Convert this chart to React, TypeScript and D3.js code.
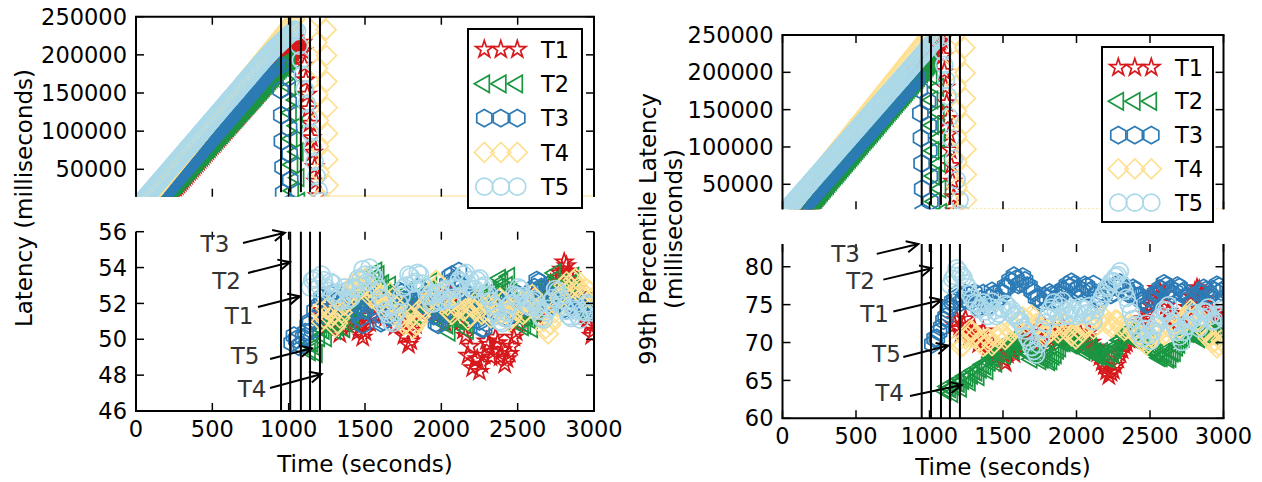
import React from 'react';
import * as d3 from 'd3';

const SERIES = ['T1', 'T2', 'T3', 'T4', 'T5'];
const COLORS = ['#d7191c', '#1a9641', '#2c7bb6', '#fee090', '#abd9e9'];
const MARKERS = ['star', 'triangle', 'hexagon', 'diamond', 'circle'];

const TIME_TICKS = [0, 500, 1000, 1500, 2000, 2500, 3000];
const BIG_TICKS = [50000, 100000, 150000, 200000, 250000];
const AVG_TICKS = [46, 48, 50, 52, 54, 56];
const P99_TICKS = [60, 65, 70, 75, 80];

// switch-over times (black vertical lines)
const AVG_SWITCH = [950, 1010, 1080, 1140, 1205];
const P99_SWITCH = [947, 1010, 1078, 1139, 1207];

// ---- average latency: ramp before switch, one sample every 10 s, in thousands of ms ----
const RISE_STEP = 10;
const avgRiseStart = [180, 140, 120, 50, 20];
const avgRiseT1 = [7.1, 9.5, 11.7, 14.1, 16.3, 18.7, 21.0, 23.2, 25.6, 27.9, 30.1, 32.5, 34.7, 37.1, 39.4, 41.6, 44.0, 46.3, 48.5, 50.9, 53.2, 55.4, 57.8, 60.0, 62.4, 64.7, 66.9, 69.3, 71.6, 73.8, 76.2, 78.4, 80.8, 83.1, 85.3, 87.7, 90.0, 92.2, 94.6, 96.8, 99.2, 101.5, 103.7, 106.1, 108.4, 110.6, 113.0, 115.2, 117.6, 119.9, 122.1, 124.5, 126.8, 129.0, 131.4, 133.6, 136.0, 138.3, 140.5, 142.9, 145.2, 147.4, 149.8, 152.0, 154.4, 156.7, 158.9, 161.3, 163.6, 165.8, 168.2, 170.4, 172.8, 175.1, 177.3, 179.7, 182.0, 184.2, 186.6, 188.8, 191.2, 193.5, 195.7, 198.1, 200.4, 202.6, 205.0, 207.2, 209.6, 211.9, 214.1, 216.2];
const avgRiseT2 = [3.0, 5.2, 7.4, 9.6, 11.8, 14.1, 16.3, 18.5, 20.7, 22.9, 25.1, 27.3, 29.5, 31.7, 33.9, 36.2, 38.4, 40.6, 42.8, 45.0, 47.2, 49.4, 51.6, 53.8, 56.0, 58.3, 60.5, 62.7, 64.9, 67.1, 69.3, 71.5, 73.7, 75.9, 78.1, 80.4, 82.6, 84.8, 87.0, 89.2, 91.4, 93.6, 95.8, 98.0, 100.2, 102.5, 104.7, 106.9, 109.1, 111.3, 113.5, 115.7, 117.9, 120.1, 122.3, 124.6, 126.8, 129.0, 131.2, 133.4, 135.6, 137.8, 140.0, 142.2, 144.4, 146.7, 148.9, 151.1, 153.3, 155.5, 157.7, 159.9, 162.1, 164.3, 166.5, 168.8, 171.0, 173.2, 175.4, 177.6, 179.8, 182.0, 184.2, 186.4, 188.6, 190.9, 193.1];
const avgRiseT3 = [3.6, 5.9, 8.2, 10.6, 12.9, 15.2, 17.5, 19.8, 22.2, 24.5, 26.8, 29.1, 31.4, 33.8, 36.1, 38.4, 40.7, 43.0, 45.4, 47.7, 50.0, 52.3, 54.6, 57.0, 59.3, 61.6, 63.9, 66.2, 68.6, 70.9, 73.2, 75.5, 77.8, 80.2, 82.5, 84.8, 87.1, 89.4, 91.8, 94.1, 96.4, 98.7, 101.0, 103.4, 105.7, 108.0, 110.3, 112.6, 115.0, 117.3, 119.6, 121.9, 124.2, 126.6, 128.9, 131.2, 133.5, 135.8, 138.2, 140.5, 142.8, 145.1, 147.4, 149.8, 152.1, 154.4, 156.7, 159.0, 161.4, 163.7, 166.0, 168.3, 170.6, 173.0, 175.3, 177.6, 179.9, 182.2, 184.6, 186.9, 189.2];
const avgRiseT4 = [4.0, 6.5, 8.9, 11.4, 13.8, 16.3, 18.7, 21.2, 23.6, 26.1, 28.5, 31.0, 33.4, 35.9, 38.3, 40.8, 43.2, 45.7, 48.1, 50.6, 53.0, 55.5, 57.9, 60.4, 62.8, 65.3, 67.7, 70.2, 72.6, 75.1, 77.5, 80.0, 82.4, 84.9, 87.3, 89.8, 92.2, 94.7, 97.1, 99.6, 102.0, 104.5, 106.9, 109.4, 111.8, 114.3, 116.7, 119.2, 121.6, 124.1, 126.5, 129.0, 131.4, 133.9, 136.3, 138.8, 141.2, 143.7, 146.1, 148.6, 151.0, 153.5, 155.9, 158.4, 160.8, 163.3, 165.7, 168.2, 170.6, 173.1, 175.5, 178.0, 180.4, 182.9, 185.3, 187.8, 190.2, 192.7, 195.1, 197.6, 200.0, 202.5, 204.9, 207.4, 209.8, 212.3, 214.7, 217.2, 219.6, 222.1, 224.5, 227.0, 229.4, 231.9, 234.3, 236.8, 239.2, 241.7, 244.1, 246.6];
const avgRiseT5 = [3.5, 5.8, 8.2, 10.5, 12.8, 15.2, 17.5, 19.8, 22.1, 24.5, 26.8, 29.1, 31.5, 33.8, 36.1, 38.4, 40.8, 43.1, 45.4, 47.8, 50.1, 52.4, 54.7, 57.1, 59.4, 61.7, 64.1, 66.4, 68.7, 71.0, 73.4, 75.7, 78.0, 80.4, 82.7, 85.0, 87.3, 89.7, 92.0, 94.3, 96.7, 99.0, 101.3, 103.6, 106.0, 108.3, 110.6, 113.0, 115.3, 117.6, 119.9, 122.3, 124.6, 126.9, 129.3, 131.6, 133.9, 136.2, 138.6, 140.9, 143.2, 145.6, 147.9, 150.2, 152.5, 154.9, 157.2, 159.5, 161.9, 164.2, 166.5, 168.8, 171.2, 173.5, 175.8, 178.2, 180.5, 182.8, 185.1, 187.5, 189.8, 192.1, 194.4, 196.6, 198.8, 200.9, 203.0, 205.1, 207.1, 209.1, 211.0, 213.0, 214.9, 216.8, 218.7, 220.6, 222.4, 224.2, 226.0, 227.8, 229.5, 231.2, 233.0];

// ---- average latency: drain right after switch [time, ms] ----
const avgDropT1 = [[1095, 205000], [1104, 186000], [1113, 167000], [1122, 148000], [1131, 129000], [1140, 110000], [1150, 91000], [1160, 72000], [1170, 53000], [1180, 34000], [1190, 15000]];
const avgDropT2 = [[1005, 192000], [1045, 175000], [1010, 158000], [1050, 141000], [1015, 124000], [1055, 107000], [1020, 90000], [1060, 73000], [1025, 56000], [1065, 39000], [1030, 22000], [1070, 8000]];
const avgDropT3 = [[945, 186000], [995, 170000], [948, 154000], [1000, 138000], [952, 121000], [1003, 104000], [956, 87000], [1006, 70000], [960, 53000], [1010, 36000], [964, 19000], [1012, 6000]];
const avgDropT4 = [[1190, 250000], [1245, 233000], [1185, 216000], [1248, 199000], [1188, 182000], [1250, 165000], [1190, 148000], [1252, 131000], [1194, 114000], [1254, 97000], [1196, 80000], [1256, 63000], [1200, 46000], [1258, 29000], [1204, 12000]];
const avgDropT5 = [[1055, 231000], [1068, 212000], [1080, 193000], [1092, 174000], [1105, 155000], [1118, 136000], [1130, 117000], [1143, 98000], [1156, 79000], [1170, 60000], [1183, 41000], [1196, 22000], [1208, 8000]];

// ---- average latency: steady state (every 15 s) ----
const STEADY_STEP = 15;
const avgStart = [1200, 1140, 1020, 1200, 1140];
const avgT1 = [50.9, 51.6, 51.3, 50.7, 51.0, 51.8, 51.4, 50.8, 51.0, 50.3, 50.6, 51.5, 51.2, 52.0, 51.6, 50.9, 51.1, 50.4, 50.7, 50.1, 50.4, 51.3, 50.9, 51.9, 51.4, 52.2, 51.8, 52.4, 52.1, 51.2, 51.6, 51.8, 51.2, 50.7, 51.5, 51.3, 51.0, 50.2, 50.6, 49.7, 49.9, 50.5, 50.8, 51.9, 51.5, 51.6, 52.0, 52.5, 51.7, 51.9, 52.3, 51.5, 51.8, 52.0, 51.4, 50.9, 51.9, 52.6, 52.4, 51.8, 51.9, 51.3, 51.0, 50.5, 50.2, 49.1, 49.6, 48.4, 48.8, 48.9, 48.2, 48.6, 49.1, 49.9, 49.7, 49.0, 49.3, 50.1, 49.8, 49.0, 49.4, 48.6, 48.9, 49.2, 49.6, 50.1, 50.4, 50.9, 51.2, 51.9, 51.7, 51.4, 52.0, 52.4, 51.6, 51.3, 51.9, 52.5, 52.3, 52.0, 52.6, 53.1, 52.9, 52.5, 53.4, 53.7, 53.9, 54.3, 54.1, 53.8, 53.6, 53.1, 52.8, 52.5, 52.1, 51.7, 51.4, 51.1, 50.8, 50.2, 50.5];
const avgT2 = [49.3, 49.8, 49.6, 49.2, 50.1, 50.6, 50.5, 50.1, 50.8, 51.3, 51.0, 50.5, 50.7, 51.4, 51.2, 50.6, 50.9, 51.6, 51.4, 51.0, 51.8, 52.4, 52.2, 51.7, 52.6, 53.2, 52.9, 52.4, 53.3, 53.8, 53.6, 53.0, 53.1, 52.6, 52.5, 53.0, 52.0, 51.5, 51.6, 52.2, 51.9, 51.4, 52.3, 52.7, 51.8, 51.3, 51.4, 52.0, 51.9, 52.6, 52.5, 52.1, 52.8, 53.2, 52.2, 51.8, 51.5, 51.0, 51.0, 51.5, 50.8, 50.4, 51.2, 51.7, 51.6, 51.0, 51.1, 51.6, 50.9, 50.5, 51.3, 51.9, 51.8, 51.3, 52.1, 52.6, 51.7, 51.3, 52.0, 52.6, 52.5, 52.1, 52.9, 53.4, 53.2, 52.7, 53.0, 53.5, 52.6, 52.1, 51.9, 51.4, 51.2, 50.7, 50.8, 51.3, 51.1, 50.6, 51.5, 52.0, 52.1, 51.6, 52.6, 53.1, 53.0, 52.5, 53.3, 53.7, 52.8, 52.4, 52.3, 52.9, 52.7, 52.2, 53.1, 53.5, 52.6, 52.1, 52.0, 51.5, 51.6, 52.1, 51.9, 51.5, 52.2];
const avgT3 = [49.8, 50.2, 50.0, 49.6, 49.7, 50.1, 50.4, 50.8, 51.0, 50.5, 51.6, 51.2, 51.9, 52.3, 52.4, 51.8, 52.0, 52.5, 52.6, 52.1, 52.2, 51.7, 51.8, 52.3, 52.4, 52.8, 52.0, 51.6, 51.5, 51.9, 51.2, 50.8, 51.6, 52.1, 52.3, 51.8, 51.9, 52.4, 51.4, 50.9, 51.0, 51.5, 51.3, 51.9, 51.8, 51.4, 52.2, 52.7, 52.6, 52.2, 52.1, 51.6, 51.7, 52.2, 52.3, 52.9, 52.8, 52.3, 52.4, 51.8, 51.9, 51.5, 51.3, 50.9, 50.8, 51.2, 51.4, 52.2, 53.1, 53.5, 53.6, 53.2, 53.4, 53.8, 53.0, 52.7, 52.5, 52.0, 51.9, 52.3, 51.4, 51.1, 51.0, 50.6, 50.6, 50.9, 51.3, 51.7, 51.8, 52.3, 52.2, 51.8, 51.7, 51.2, 51.2, 51.7, 51.5, 51.9, 52.0, 52.5, 52.4, 52.0, 51.8, 52.1, 52.3, 52.7, 52.9, 53.3, 53.2, 52.9, 52.8, 52.4, 52.4, 52.0, 51.9, 52.3, 52.5, 52.0, 52.1, 51.7, 51.6, 51.9, 52.0, 52.4, 52.5, 52.1, 52.2, 51.8, 51.7, 52.0, 52.1, 51.7, 51.8];
const avgT4 = [51.6, 51.0, 51.2, 51.7, 51.8, 51.2, 51.4, 50.7, 50.9, 51.2, 51.5, 51.9, 52.1, 52.5, 52.7, 53.1, 53.2, 52.7, 52.8, 53.3, 53.4, 52.8, 52.9, 52.3, 52.4, 52.6, 52.0, 52.5, 52.4, 51.8, 51.9, 52.6, 52.3, 51.9, 51.8, 51.2, 51.3, 50.8, 50.9, 51.4, 51.2, 50.6, 50.8, 51.0, 51.3, 51.8, 51.7, 52.0, 52.2, 52.6, 52.8, 53.3, 53.1, 52.6, 52.5, 52.0, 51.9, 51.5, 51.4, 51.9, 51.8, 52.3, 52.2, 51.6, 51.7, 51.1, 51.3, 51.8, 51.6, 52.2, 52.0, 51.4, 51.5, 52.0, 51.9, 51.2, 51.3, 51.9, 51.7, 52.3, 52.1, 51.5, 51.6, 51.0, 51.2, 51.8, 51.6, 52.3, 52.0, 51.4, 51.5, 52.1, 51.9, 52.5, 52.3, 51.7, 51.8, 51.2, 51.0, 50.6, 50.3, 50.8, 51.1, 51.5, 51.8, 52.3, 52.6, 53.0, 53.2, 52.7, 52.9, 53.3, 53.4, 52.9, 52.8, 52.4, 52.3, 52.8, 52.7, 52.2, 52.4];
const avgT5 = [52.9, 53.3, 53.4, 52.8, 53.0, 53.6, 53.3, 52.9, 52.7, 53.2, 53.1, 52.5, 52.6, 52.1, 52.2, 52.9, 52.7, 52.2, 52.3, 52.9, 52.8, 53.4, 53.3, 53.9, 53.6, 53.2, 54.0, 53.6, 53.5, 53.0, 52.8, 52.3, 52.0, 51.6, 51.4, 51.0, 50.9, 51.3, 51.5, 52.0, 52.4, 52.9, 53.0, 53.6, 53.5, 53.1, 53.2, 53.7, 53.6, 53.1, 52.9, 52.5, 52.4, 52.0, 52.0, 52.5, 52.6, 52.1, 52.2, 52.8, 52.7, 52.2, 52.3, 52.9, 52.8, 53.3, 53.2, 53.6, 53.7, 53.1, 53.3, 52.8, 52.8, 53.3, 53.4, 52.9, 53.0, 52.4, 52.5, 52.1, 51.9, 51.5, 51.3, 51.0, 50.9, 51.2, 51.5, 51.9, 52.0, 52.5, 52.4, 52.9, 52.8, 52.4, 52.3, 51.9, 51.8, 52.1, 52.2, 51.8, 51.6, 51.2, 51.1, 51.5, 51.7, 52.1, 52.3, 52.8, 52.7, 52.4, 52.2, 51.8, 51.6, 51.3, 51.2, 51.7, 51.6, 51.3, 51.1, 51.6, 51.5, 52.0, 51.9, 51.5, 51.6];

// ---- 99th percentile: ramp before switch, every 10 s, thousands of ms ----
const p99RiseStart = [140, 130, 100, 25, 0];
const p99RiseT1 = [9.0, 11.5, 14.2, 16.5, 19.0, 21.5, 24.0, 26.3, 29.0, 31.5, 34.0, 36.5, 39.0, 41.5, 44.3, 46.5, 49.0, 51.5, 54.0, 56.5, 59.0, 61.5, 64.2, 66.5, 69.0, 71.5, 74.0, 76.3, 79.0, 81.5, 84.0, 86.5, 89.0, 91.5, 94.3, 96.5, 99.0, 101.5, 104.0, 106.5, 109.0, 111.5, 114.2, 116.5, 119.0, 121.5, 124.0, 126.3, 129.0, 131.5, 134.0, 136.5, 139.0, 141.5, 144.3, 146.5, 149.0, 151.5, 154.0, 156.5, 159.0, 161.5, 164.2, 166.5, 169.0, 171.5, 174.0, 176.3, 179.0, 181.5, 184.0, 186.5, 189.0, 191.5, 194.3, 196.5, 199.0, 201.5, 204.0, 206.5, 209.0, 211.5, 214.2, 216.5, 219.0, 221.5, 224.0, 226.3, 229.0, 231.5, 234.0, 236.5, 239.0, 241.5, 244.0];
const p99RiseT2 = [7.2, 9.5, 11.9, 14.2, 16.5, 18.9, 21.2, 23.5, 25.8, 28.2, 30.5, 32.8, 35.2, 37.5, 39.8, 42.2, 44.5, 46.8, 49.1, 51.5, 53.8, 56.1, 58.5, 60.8, 63.1, 65.4, 67.8, 70.1, 72.4, 74.8, 77.1, 79.4, 81.8, 84.1, 86.4, 88.7, 91.1, 93.4, 95.7, 98.1, 100.4, 102.7, 105.0, 107.4, 109.7, 112.0, 114.4, 116.7, 119.0, 121.4, 123.7, 126.0, 128.3, 130.7, 133.0, 135.3, 137.7, 140.0, 142.3, 144.6, 147.0, 149.3, 151.6, 154.0, 156.3, 158.6, 161.0, 163.3, 165.6, 167.9, 170.3, 172.6, 174.9, 177.3, 179.6, 181.9, 184.2, 186.6, 188.9, 191.2, 193.6, 195.9, 198.2, 200.6, 202.9, 205.2, 207.5, 209.9, 212.2];
const p99RiseT3 = [11.0, 13.2, 15.5, 17.7, 19.9, 22.2, 24.4, 26.6, 28.8, 31.1, 33.3, 35.5, 37.8, 40.0, 42.2, 44.5, 46.7, 48.9, 51.1, 53.4, 55.6, 57.8, 60.1, 62.3, 64.5, 66.8, 69.0, 71.2, 73.4, 75.7, 77.9, 80.1, 82.4, 84.6, 86.8, 89.1, 91.3, 93.5, 95.7, 98.0, 100.2, 102.4, 104.7, 106.9, 109.1, 111.4, 113.6, 115.8, 118.0, 120.3, 122.5, 124.7, 127.0, 129.2, 131.4, 133.7, 135.9, 138.1, 140.3, 142.6, 144.8, 147.0, 149.3, 151.5, 153.7, 156.0, 158.2, 160.4, 162.6, 164.9, 167.1, 169.3, 171.6, 173.8, 176.0, 178.3, 180.5, 182.7, 184.9, 187.2, 189.4, 191.6, 193.9];
const p99RiseT4 = [11.6, 14.1, 16.5, 19.0, 21.4, 23.9, 26.3, 28.8, 31.2, 33.7, 36.1, 38.6, 41.0, 43.5, 45.9, 48.4, 50.8, 53.3, 55.7, 58.2, 60.6, 63.1, 65.5, 68.0, 70.4, 72.9, 75.3, 77.8, 80.2, 82.7, 85.1, 87.6, 90.0, 92.5, 94.9, 97.4, 99.8, 102.3, 104.7, 107.2, 109.6, 112.1, 114.5, 117.0, 119.4, 121.9, 124.3, 126.8, 129.2, 131.7, 134.1, 136.6, 139.0, 141.5, 143.9, 146.4, 148.8, 151.3, 153.7, 156.2, 158.6, 161.1, 163.5, 166.0, 168.4, 170.9, 173.3, 175.8, 178.2, 180.7, 183.1, 185.6, 188.0, 190.5, 192.9, 195.4, 197.8, 200.3, 202.7, 205.2, 207.6, 210.1, 212.5, 215.0, 217.4, 219.9, 222.3, 224.8, 227.2, 229.7, 232.1, 234.6, 237.0, 239.5, 241.9, 244.4, 246.8, 249.3];
const p99RiseT5 = [9.8, 12.0, 14.3, 16.5, 18.8, 21.0, 23.3, 25.5, 27.8, 30.0, 32.3, 34.5, 36.8, 39.0, 41.3, 43.5, 45.8, 48.0, 50.3, 52.5, 54.8, 57.0, 59.3, 61.5, 63.8, 66.0, 68.3, 70.5, 72.8, 75.0, 77.3, 79.5, 81.8, 84.0, 86.3, 88.5, 90.8, 93.0, 95.3, 97.5, 99.8, 102.0, 104.3, 106.5, 108.8, 111.0, 113.3, 115.5, 117.8, 120.0, 122.3, 124.5, 126.8, 129.0, 131.3, 133.5, 135.8, 138.0, 140.3, 142.5, 144.8, 147.0, 149.3, 151.5, 153.8, 156.0, 158.3, 160.5, 162.8, 165.0, 167.3, 169.5, 171.8, 174.0, 176.3, 178.5, 180.8, 183.0, 185.3, 187.5, 189.8, 192.0, 194.3, 196.5, 198.8, 201.0, 203.3, 205.5, 207.8, 210.0, 212.3, 214.5, 216.8, 219.0, 221.3, 223.5, 225.8, 228.0, 230.3, 232.5, 234.8, 237.0, 239.3, 241.5, 243.8];

const p99DropT1 = [[1093, 222000], [1101, 201000], [1109, 180000], [1117, 159000], [1125, 138000], [1133, 117000], [1141, 96000], [1149, 75000], [1157, 54000], [1165, 33000], [1173, 14000]];
const p99DropT2 = [[1015, 196000], [1060, 180000], [1020, 163000], [1063, 146000], [1024, 129000], [1067, 112000], [1028, 95000], [1071, 78000], [1032, 61000], [1075, 44000], [1036, 27000], [1079, 12000]];
const p99DropT3 = [[935, 177000], [990, 161000], [938, 145000], [994, 129000], [942, 112000], [998, 95000], [946, 78000], [1002, 61000], [950, 44000], [1006, 27000], [954, 12000]];
const p99DropT4 = [[1175, 250000], [1240, 233000], [1178, 216000], [1242, 199000], [1180, 182000], [1244, 165000], [1182, 148000], [1246, 131000], [1184, 114000], [1248, 97000], [1186, 80000], [1250, 63000], [1188, 46000], [1252, 29000], [1190, 12000]];
const p99DropT5 = [[1075, 246000], [1090, 228000], [1100, 210000], [1112, 190000], [1124, 168000], [1135, 140000], [1145, 112000], [1165, 84000], [1185, 56000], [1205, 29000], [1220, 10000]];

// ---- 99th percentile: steady state (every 15 s) ----
const p99Start = [1170, 1110, 1020, 1200, 1140];
const p99T1 = [72.3, 73.0, 71.8, 71.2, 72.4, 73.1, 71.6, 70.9, 71.0, 71.8, 70.4, 69.8, 70.9, 71.5, 69.8, 69.1, 69.2, 69.9, 68.7, 68.0, 68.2, 68.9, 67.8, 67.3, 68.4, 69.2, 69.1, 68.5, 69.9, 70.7, 70.5, 69.8, 71.0, 71.8, 70.6, 70.0, 71.2, 71.9, 70.7, 70.1, 71.3, 72.0, 70.8, 70.2, 71.4, 72.1, 70.9, 70.3, 71.5, 72.2, 71.0, 70.3, 70.4, 71.2, 71.1, 70.5, 70.6, 71.3, 70.2, 69.6, 70.7, 71.4, 70.0, 69.4, 69.2, 68.6, 68.1, 67.4, 66.9, 66.2, 65.6, 66.0, 66.3, 67.0, 67.8, 68.5, 69.0, 69.6, 69.9, 70.4, 70.6, 71.3, 71.2, 71.7, 72.0, 72.6, 73.1, 73.7, 74.2, 74.9, 75.6, 76.4, 77.1, 76.8, 76.3, 75.6, 74.8, 74.1, 73.5, 73.0, 72.6, 72.2, 72.1, 72.5, 73.0, 73.8, 74.6, 75.3, 76.0, 76.7, 77.2, 77.0, 76.5, 75.8, 75.1, 74.5, 74.0, 73.6, 73.2, 72.9, 72.7, 73.0, 73.4];
const p99T2 = [63.6, 64.2, 63.9, 63.3, 64.2, 64.8, 64.6, 64.0, 65.0, 65.6, 65.3, 64.8, 65.7, 66.3, 66.1, 65.5, 66.5, 67.1, 66.9, 66.3, 67.4, 68.0, 67.9, 67.3, 68.5, 69.1, 69.0, 68.3, 69.6, 70.2, 69.5, 68.9, 70.3, 70.9, 69.8, 69.1, 69.0, 69.7, 68.4, 67.8, 68.9, 69.5, 68.3, 67.6, 67.8, 68.5, 68.2, 67.5, 67.6, 68.2, 68.4, 69.0, 69.3, 70.0, 70.0, 70.6, 70.4, 69.7, 69.8, 70.5, 70.2, 69.6, 69.5, 68.8, 69.0, 69.7, 69.4, 68.7, 68.8, 68.2, 68.2, 68.8, 68.6, 67.9, 67.9, 68.6, 68.5, 69.1, 69.6, 70.3, 70.4, 71.0, 70.9, 71.6, 71.3, 70.6, 70.8, 70.1, 70.2, 70.9, 70.6, 69.9, 69.9, 69.3, 69.2, 68.6, 68.6, 68.0, 68.0, 68.7, 68.5, 67.8, 67.9, 68.6, 68.7, 69.4, 69.8, 70.4, 70.6, 71.3, 71.2, 71.8, 71.6, 70.9, 71.1, 70.5, 70.6, 71.3, 71.0, 71.7, 71.5, 70.9, 71.1, 71.8, 71.7, 72.3, 72.1];
const p99T3 = [69.8, 70.5, 70.6, 71.4, 72.0, 72.9, 73.4, 74.3, 74.8, 75.4, 75.6, 76.4, 76.1, 75.3, 75.7, 76.5, 76.3, 75.4, 75.8, 76.6, 75.2, 74.6, 75.7, 76.5, 75.3, 74.7, 75.9, 76.8, 76.4, 75.7, 75.8, 76.7, 76.5, 77.4, 77.3, 78.2, 78.0, 78.8, 78.4, 77.6, 77.8, 78.7, 78.2, 77.5, 77.4, 76.8, 76.6, 75.9, 75.9, 75.2, 75.4, 76.1, 75.8, 76.6, 76.3, 75.5, 75.7, 76.5, 76.2, 77.0, 76.8, 77.6, 77.3, 78.0, 77.6, 76.9, 77.2, 76.5, 76.8, 77.6, 77.4, 76.7, 76.9, 77.7, 76.3, 75.6, 75.8, 76.6, 76.4, 77.2, 77.0, 76.3, 76.6, 77.5, 77.2, 77.9, 77.6, 76.9, 77.1, 76.4, 76.5, 77.2, 76.9, 76.1, 76.2, 75.5, 75.6, 75.0, 75.1, 75.9, 75.7, 76.5, 76.4, 77.1, 77.0, 77.8, 77.5, 76.8, 77.1, 76.4, 76.7, 77.5, 77.3, 76.6, 76.8, 76.1, 76.0, 75.2, 75.3, 76.1, 75.8, 76.6, 76.4, 77.2, 76.9, 76.1, 76.3, 77.0, 76.8, 77.6, 77.4, 76.7, 77.0];
const p99T4 = [70.2, 69.4, 69.6, 70.5, 70.8, 71.6, 71.5, 70.7, 71.0, 70.1, 70.3, 69.5, 69.7, 70.6, 70.4, 69.6, 69.9, 70.8, 70.6, 71.4, 71.2, 70.4, 70.7, 71.6, 71.4, 72.3, 72.0, 72.8, 72.6, 73.4, 73.1, 72.3, 72.7, 73.6, 73.3, 72.5, 72.4, 71.7, 71.6, 70.8, 71.0, 71.9, 71.5, 72.3, 72.1, 71.3, 71.6, 72.5, 72.3, 71.5, 71.7, 70.9, 71.2, 70.5, 70.8, 71.6, 71.4, 72.2, 72.0, 72.9, 72.6, 71.8, 72.2, 73.0, 72.8, 73.6, 73.3, 72.5, 72.7, 72.0, 72.2, 73.0, 72.9, 72.1, 72.4, 71.6, 71.8, 72.6, 72.3, 71.5, 71.6, 70.8, 71.0, 70.2, 70.4, 69.7, 70.0, 70.8, 70.5, 71.3, 71.1, 71.9, 71.7, 71.0, 71.2, 72.0, 71.8, 72.6, 72.3, 71.5, 71.9, 72.7, 72.6, 73.5, 73.4, 74.3, 74.1, 73.3, 73.6, 72.8, 72.5, 71.7, 71.4, 70.6, 70.8, 70.0, 70.1, 69.3, 69.6, 70.3, 69.9];
const p99T5 = [77.6, 78.4, 78.8, 79.8, 79.4, 78.9, 78.6, 77.8, 77.3, 76.4, 75.8, 75.3, 75.1, 74.4, 74.6, 75.3, 74.1, 73.5, 74.7, 75.4, 74.2, 73.5, 73.8, 74.6, 74.4, 75.1, 74.9, 74.0, 74.3, 73.5, 73.7, 72.9, 72.8, 72.0, 71.6, 70.7, 70.2, 69.4, 68.9, 68.4, 69.8, 70.6, 71.7, 72.6, 73.4, 74.2, 74.6, 75.3, 74.1, 73.4, 74.8, 75.5, 74.2, 73.5, 73.6, 74.5, 74.3, 73.5, 73.8, 74.7, 74.4, 73.7, 73.9, 74.8, 73.5, 72.8, 74.3, 75.0, 75.4, 76.0, 76.5, 77.2, 77.4, 78.0, 78.1, 78.7, 78.9, 79.4, 77.6, 76.8, 75.9, 75.0, 74.0, 73.1, 72.3, 71.7, 71.2, 70.6, 71.8, 72.5, 70.9, 70.2, 71.5, 72.2, 72.4, 73.2, 73.5, 74.3, 74.2, 74.9, 73.3, 72.6, 72.1, 71.4, 70.8, 70.1, 71.4, 72.1, 72.3, 73.0, 73.1, 73.9, 72.6, 71.9, 73.4, 74.1, 74.0, 74.6, 73.5, 72.8, 72.9, 73.7, 73.6, 74.3, 73.2];

// annotations: label, arrow tip, text centre, arrow tail (time, latency)
const AVG_NOTES = [
  { label: 'T3', tip: [975, 55.94], text: [517, 55.34], tail: [701, 55.37] },
  { label: 'T2', tip: [1009, 54.3], text: [593, 53.25], tail: [734, 53.7] },
  { label: 'T1', tip: [1074, 52.4], text: [675, 51.3], tail: [799, 51.8] },
  { label: 'T5', tip: [1151, 49.5], text: [714, 49.1], tail: [878, 48.9] },
  { label: 'T4', tip: [1216, 48.06], text: [760, 47.25], tail: [878, 47.28] },
];
const P99_NOTES = [
  { label: 'T3', tip: [924, 83.0], text: [429, 81.7], tail: [641, 81.7] },
  { label: 'T2', tip: [1015, 79.8], text: [531, 78.2], tail: [686, 78.3] },
  { label: 'T1', tip: [1083, 75.6], text: [626, 73.8], tail: [754, 74.1] },
  { label: 'T5', tip: [1128, 69.6], text: [707, 68.5], tail: [822, 68.1] },
  { label: 'T4', tip: [1219, 64.4], text: [728, 63.4], tail: [867, 62.95] },
];

type Pt = [number, number];
const regular = (start: number, step: number, vals: number[], unit = 1): Pt[] =>
  vals.map((v, k) => [start + k * step, v * unit] as Pt);

const avgTop: Pt[][] = [avgRiseT1, avgRiseT2, avgRiseT3, avgRiseT4, avgRiseT5].map((a, i) =>
  regular(avgRiseStart[i], RISE_STEP, a, 1000).concat([avgDropT1, avgDropT2, avgDropT3, avgDropT4, avgDropT5][i] as Pt[]));
const p99Top: Pt[][] = [p99RiseT1, p99RiseT2, p99RiseT3, p99RiseT4, p99RiseT5].map((a, i) =>
  regular(p99RiseStart[i], RISE_STEP, a, 1000).concat([p99DropT1, p99DropT2, p99DropT3, p99DropT4, p99DropT5][i] as Pt[]));
const avgBottom: Pt[][] = [avgT1, avgT2, avgT3, avgT4, avgT5].map((a, i) => regular(avgStart[i], STEADY_STEP, a));
const p99Bottom: Pt[][] = [p99T1, p99T2, p99T3, p99T4, p99T5].map((a, i) => regular(p99Start[i], STEADY_STEP, a));

const FONT = "'DejaVu Sans', sans-serif";

function markerPath(kind: string): string {
  const poly = (n: number, r: number, a0: number, inner = 0) => {
    const m = inner ? n * 2 : n;
    const pts = d3.range(m).map((k) => {
      const a = a0 + (k * 2 * Math.PI) / m;
      const rr = inner && k % 2 ? r * inner : r;
      return `${(rr * Math.cos(a)).toFixed(2)},${(rr * Math.sin(a)).toFixed(2)}`;
    });
    return 'M' + pts.join('L') + 'Z';
  };
  switch (kind) {
    case 'star': return poly(5, 9, -Math.PI / 2, 0.382);
    case 'triangle': return poly(3, 10, Math.PI);
    case 'hexagon': return poly(6, 8.7, -Math.PI / 2);
    case 'diamond': return poly(4, 10, -Math.PI / 2);
    default: return 'M8.5,0A8.5,8.5 0 1 1 -8.5,0A8.5,8.5 0 1 1 8.5,0Z';
  }
}
const PATHS = MARKERS.map(markerPath);

function Markers({ data, x, y }: { data: Pt[][]; x: any; y: any }) {
  return (
    <g>
      {data.map((pts, i) => (
        <g key={i} fill="none" stroke={COLORS[i]} strokeWidth={1.7}>
          {pts.map((p, k) => (
            <path key={k} d={PATHS[i]} transform={`translate(${x(p[0]).toFixed(1)},${y(p[1]).toFixed(1)})`} />
          ))}
        </g>
      ))}
    </g>
  );
}

function Frame({ x, y, ticks, part, label, titleDy = 61 }: { x: any; y: any; ticks: number[]; part: 'top' | 'bottom'; label?: boolean; titleDy?: number }) {
  const [x0, x1] = x.range();
  const [yb, yt] = y.range();
  const tl = 8;
  return (
    <g stroke="#000" fill="none">
      <line x1={x0} x2={x0} y1={yt} y2={yb} strokeWidth={2} />
      <line x1={x1} x2={x1} y1={yt} y2={yb} strokeWidth={2} />
      {part === 'top' ? (
        <line x1={x0 - 1} x2={x1 + 1} y1={yt} y2={yt} strokeWidth={2} />
      ) : (
        <line x1={x0 - 1} x2={x1 + 1} y1={yb} y2={yb} strokeWidth={2} />
      )}
      {TIME_TICKS.map((t) => (
        <g key={'x' + t} strokeWidth={1.5}>
          <line x1={x(t)} x2={x(t)} y1={yt} y2={yt + tl} />
          <line x1={x(t)} x2={x(t)} y1={yb} y2={yb - tl} />
        </g>
      ))}
      {ticks.map((v) => (
        <g key={'y' + v} strokeWidth={1.5}>
          <line x1={x0} x2={x0 + tl} y1={y(v)} y2={y(v)} />
          <line x1={x1} x2={x1 - tl} y1={y(v)} y2={y(v)} />
        </g>
      ))}
      <g stroke="none" fill="#000" fontSize={22.5} fontFamily={FONT}>
        {ticks.map((v) => (
          <text key={'l' + v} x={x0 - 9} y={y(v)} dy="0.36em" textAnchor="end">{v}</text>
        ))}
        {label &&
          TIME_TICKS.map((t) => (
            <text key={'t' + t} x={x(t)} y={yb + 26} textAnchor="middle">{t}</text>
          ))}
        {label && (
          <text x={(x0 + x1) / 2} y={yb + titleDy} textAnchor="middle" fontSize={23}>Time (seconds)</text>
        )}
      </g>
    </g>
  );
}

function Switches({ x, y, times, shorten }: { x: any; y: any; times: number[]; shorten: number }) {
  const [yb, yt] = y.range();
  return (
    <g stroke="#000" strokeWidth={2}>
      {times.map((t) => (
        <line key={t} x1={x(t)} x2={x(t)} y1={yt} y2={yb - shorten} />
      ))}
    </g>
  );
}

function Notes({ x, y, notes }: { x: any; y: any; notes: any[] }) {
  return (
    <g>
      {notes.map((n) => {
        const sx = x(n.tail[0]), sy = y(n.tail[1]);
        const ex = x(n.tip[0]), ey = y(n.tip[1]);
        const a = Math.atan2(ey - sy, ex - sx);
        const hl = 13, hw = 0.45;
        const h1 = [ex - hl * Math.cos(a - hw), ey - hl * Math.sin(a - hw)];
        const h2 = [ex - hl * Math.cos(a + hw), ey - hl * Math.sin(a + hw)];
        return (
          <g key={n.label}>
            <text x={x(n.text[0])} y={y(n.text[1])} dy="0.36em" textAnchor="middle" fontSize={23} fontFamily={FONT} fill="#333">
              {n.label}
            </text>
            <path d={`M${sx},${sy}L${ex},${ey}M${h1[0]},${h1[1]}L${ex},${ey}L${h2[0]},${h2[1]}`} stroke="#000" strokeWidth={2} fill="none" />
          </g>
        );
      })}
    </g>
  );
}

function Legend({ x, y, w, h, gap }: { x: number; y: number; w: number; h: number; gap: number }) {
  return (
    <g>
      <rect x={x} y={y} width={w} height={h} fill="#fff" stroke="#000" strokeWidth={2} />
      {SERIES.map((s, i) => {
        const cy = y + 20.5 + i * gap;
        return (
          <g key={s}>
            <g fill="none" stroke={COLORS[i]} strokeWidth={1.7}>
              {[0, 1, 2].map((k) => (
                <path key={k} d={PATHS[i]} transform={`translate(${x + 16.3 + k * 16.5},${cy})`} />
              ))}
            </g>
            <text x={x + 73} y={cy} dy="0.36em" fontSize={22.5} fontFamily={FONT} fill="#000">{s}</text>
          </g>
        );
      })}
    </g>
  );
}

export default function App() {
  const lx = d3.scaleLinear().domain([0, 3000]).range([136, 594]);
  const lTop = d3.scaleLinear().domain([14100, 250000]).range([196.7, 16.7]);
  const lBot = d3.scaleLinear().domain([46, 56]).range([411, 231.7]);
  const rx = d3.scaleLinear().domain([0, 3000]).range([782.5, 1223.5]);
  const rTop = d3.scaleLinear().domain([16500, 250000]).range([209.3, 35]);
  const rBot = d3.scaleLinear().domain([60, 83]).range([418.3, 244]);

  const clip = (id: string, x: any, y: any) => {
    const [x0, x1] = x.range();
    const [yb, yt] = y.range();
    return (
      <clipPath id={id}>
        <rect x={x0} y={yt} width={x1 - x0} height={yb - yt} />
      </clipPath>
    );
  };

  return (
    <div style={{ position: 'absolute', left: 0, top: 0 }}>
      <svg width={1262} height={482} style={{ display: 'block', background: '#fff' }}>
        <defs>
          {clip('clt', lx, lTop)}
          {clip('clb', lx, lBot)}
          {clip('crt', rx, rTop)}
          {clip('crb', rx, rBot)}
        </defs>

        {/* left: average latency */}
        <g clipPath="url(#clt)">
          <Markers data={avgTop} x={lx} y={lTop} />
          <line x1={lx(1205)} x2={lx(3000)} y1={196.2} y2={196.2} stroke={COLORS[3]} strokeWidth={1.2} />
        </g>
        <g clipPath="url(#clb)">
          <Markers data={avgBottom} x={lx} y={lBot} />
        </g>
        <Switches x={lx} y={lTop} times={AVG_SWITCH} shorten={4.5} />
        <Switches x={lx} y={lBot} times={AVG_SWITCH} shorten={0} />
        <Frame x={lx} y={lTop} ticks={BIG_TICKS} part="top" />
        <Frame x={lx} y={lBot} ticks={AVG_TICKS} part="bottom" label />
        <Notes x={lx} y={lBot} notes={AVG_NOTES} />
        <Legend x={468} y={29} w={114} h={179} gap={34.3} />
        <text transform="translate(32,198) rotate(-90)" textAnchor="middle" fontSize={23} fontFamily={FONT}>
          Latency (milliseconds)
        </text>

        {/* right: 99th percentile latency */}
        <g clipPath="url(#crt)">
          <Markers data={p99Top} x={rx} y={rTop} />
          <line x1={rx(1207)} x2={rx(3000)} y1={208.8} y2={208.8} stroke={COLORS[3]} strokeWidth={1.2} strokeDasharray="2 2" />
        </g>
        <g clipPath="url(#crb)">
          <Markers data={p99Bottom} x={rx} y={rBot} />
        </g>
        <Switches x={rx} y={rTop} times={P99_SWITCH} shorten={4.5} />
        <Switches x={rx} y={rBot} times={P99_SWITCH} shorten={0} />
        <Frame x={rx} y={rTop} ticks={BIG_TICKS} part="top" />
        <Frame x={rx} y={rBot} ticks={P99_TICKS} part="bottom" label titleDy={57} />
        <Notes x={rx} y={rBot} notes={P99_NOTES} />
        <Legend x={1102} y={47} w={111} h={175} gap={33.8} />
        <g fontSize={23} fontFamily={FONT} textAnchor="middle">
          <text transform="translate(656,229) rotate(-90)">99th Percentile Latency</text>
          <text transform="translate(682,229) rotate(-90)">(milliseconds)</text>
        </g>
      </svg>
    </div>
  );
}
